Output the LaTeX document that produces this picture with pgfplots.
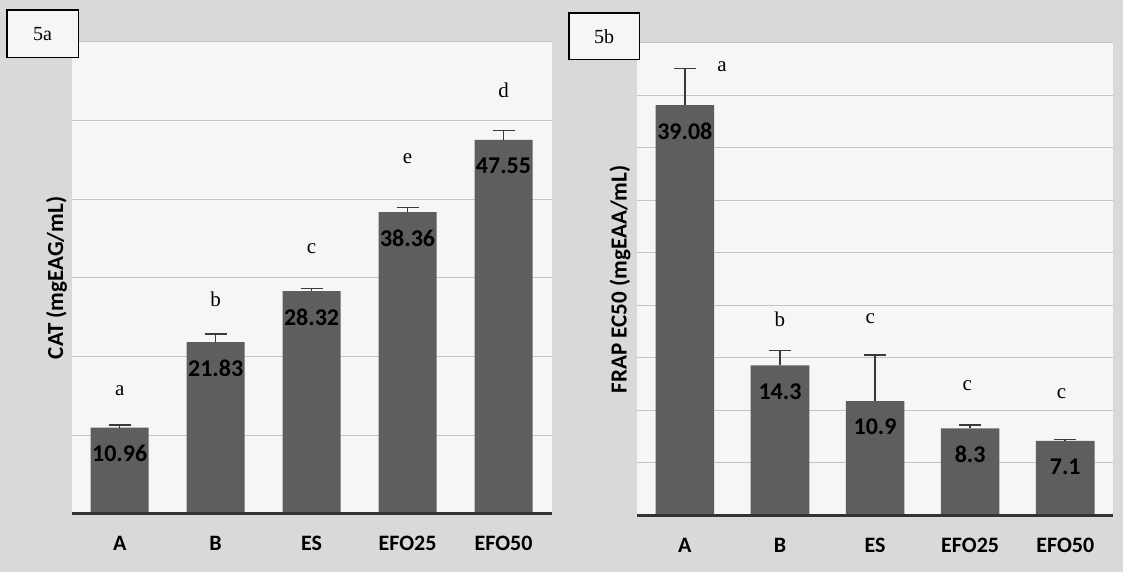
\documentclass[border=0pt]{standalone}
\usepackage{fontspec}
\setmainfont{Liberation Serif}
\newfontfamily\carl{Carlito}
\usepackage{pgfplots}
\usepackage{pgfplotstable}
\pgfplotsset{compat=1.18}
\definecolor{bgc}{HTML}{D9D9D9}
\definecolor{plotbg}{HTML}{F6F6F6}
\definecolor{barc}{HTML}{5E5E5E}
\definecolor{gridc}{HTML}{C4C4C4}
\definecolor{basec}{HTML}{333333}
\definecolor{errc}{HTML}{3A3A3A}

\pgfplotstableread{
x y e l
0 10.96 0.3 10.96
1 21.83 1.0 21.83
2 28.32 0.3 28.32
3 38.36 0.6 38.36
4 47.55 1.2 47.55
}\cata
\pgfplotstableread{
x y l
0 15.6 a
1 27.3 b
2 33.7 c
3 45.1 e
4 53.8 d
}\letta
\pgfplotstableread{
x y e l
0 39.08 3.5 39.08
1 14.3 1.4 14.3
2 10.9 4.4 10.9
3 8.3 0.3 8.3
4 7.1 0.15 7.1
}\catb
\pgfplotstableread{
x y l
0.39 42.77 a
1 18.71 b
1.95 18.71 c
2.97 12.37 c
3.96 11.57 c
}\lettb

\pgfplotsset{
  panel/.style={
    scale only axis,
    xmin=-0.5, xmax=4.5, ymin=0,
    clip=false,
    axis line style={draw=none},
    axis background/.style={fill=plotbg},
    xtick={0,1,2,3,4},
    xticklabels={A,B,ES,EFO25,EFO50},
    xticklabel style={font=\carl\fontsize{11}{13}\selectfont\bfseries, anchor=center, yshift=-15pt},
    major tick length=0pt,
    yticklabels={},
    ymajorgrids=true,
    grid style={gridc, line width=0.5pt},
  },
  valnodes/.style={
    nodes near coords,
    point meta=explicit symbolic,
    every node near coord/.append style={anchor=center, yshift=-13pt, text=black, font=\carl\fontsize{12}{14}\selectfont\bfseries},
  },
  letnodes/.style={
    only marks, mark=text, text mark={},
    nodes near coords,
    point meta=explicit symbolic,
    every node near coord/.append style={anchor=center, yshift=0pt, inner sep=0pt, text=black, font=\fontsize{10.5}{12}\selectfont},
  },
}

\begin{document}
\begin{tikzpicture}
\fill[bgc] (0,0) rectangle (561.5pt,286pt);
\path[use as bounding box] (0,0) rectangle (561.5pt,286pt);

% Panel 5a
\begin{axis}[panel,
  at={(35.85pt,29.15pt)}, anchor=south west,
  width=239.9pt, height=235.85pt,
  ymax=60, ytick={10,20,30,40,50,60},
  ylabel={CAT (mgEAG/mL)},
  ylabel style={at={(axis description cs:-0.0317,0.5)}, anchor=center, font=\carl\fontsize{11.5}{13}\selectfont\bfseries},
]
\addplot[ybar, bar width=29pt, fill=barc, draw=none, valnodes,
  error bars/.cd, y dir=plus, y explicit,
  error bar style={line width=0.8pt, color=errc},
  error mark options={rotate=90, mark size=5.5pt, line width=0.8pt, color=errc}]
  table[x=x, y=y, y error=e, meta=l]{\cata};
\addplot[letnodes] table[x=x, y=y, meta=l]{\letta};
\draw[basec, line width=1.5pt] (rel axis cs:0,0) -- (rel axis cs:1,0);
\end{axis}

% Panel 5b
\begin{axis}[panel,
  at={(318.65pt,28.25pt)}, anchor=south west,
  width=237.75pt, height=236.25pt,
  ymax=45, ytick={5,10,15,20,25,30,35,40,45},
  ylabel={FRAP EC50 (mgEAA/mL)},
  ylabel style={at={(axis description cs:-0.0364,0.5)}, anchor=center, font=\carl\fontsize{11.5}{13}\selectfont\bfseries},
]
\addplot[ybar, bar width=29.3pt, fill=barc, draw=none, valnodes,
  error bars/.cd, y dir=plus, y explicit,
  error bar style={line width=0.8pt, color=errc},
  error mark options={rotate=90, mark size=5.5pt, line width=0.8pt, color=errc}]
  table[x=x, y=y, y error=e, meta=l]{\catb};
\addplot[letnodes] table[x=x, y=y, meta=l]{\lettb};
\draw[basec, line width=1.5pt] (rel axis cs:0,0) -- (rel axis cs:1,0);
\end{axis}

% Panel tags
\draw[black, line width=0.9pt, fill=plotbg] (3.3pt,257.2pt) rectangle (39.2pt,281pt);
\node[font=\fontsize{10}{12}\selectfont] at (21.25pt,269.1pt) {5a};
\draw[black, line width=0.9pt, fill=plotbg] (284.5pt,256.25pt) rectangle (319.75pt,279.6pt);
\node[font=\fontsize{10}{12}\selectfont] at (302.1pt,267.9pt) {5b};
\end{tikzpicture}
\end{document}
